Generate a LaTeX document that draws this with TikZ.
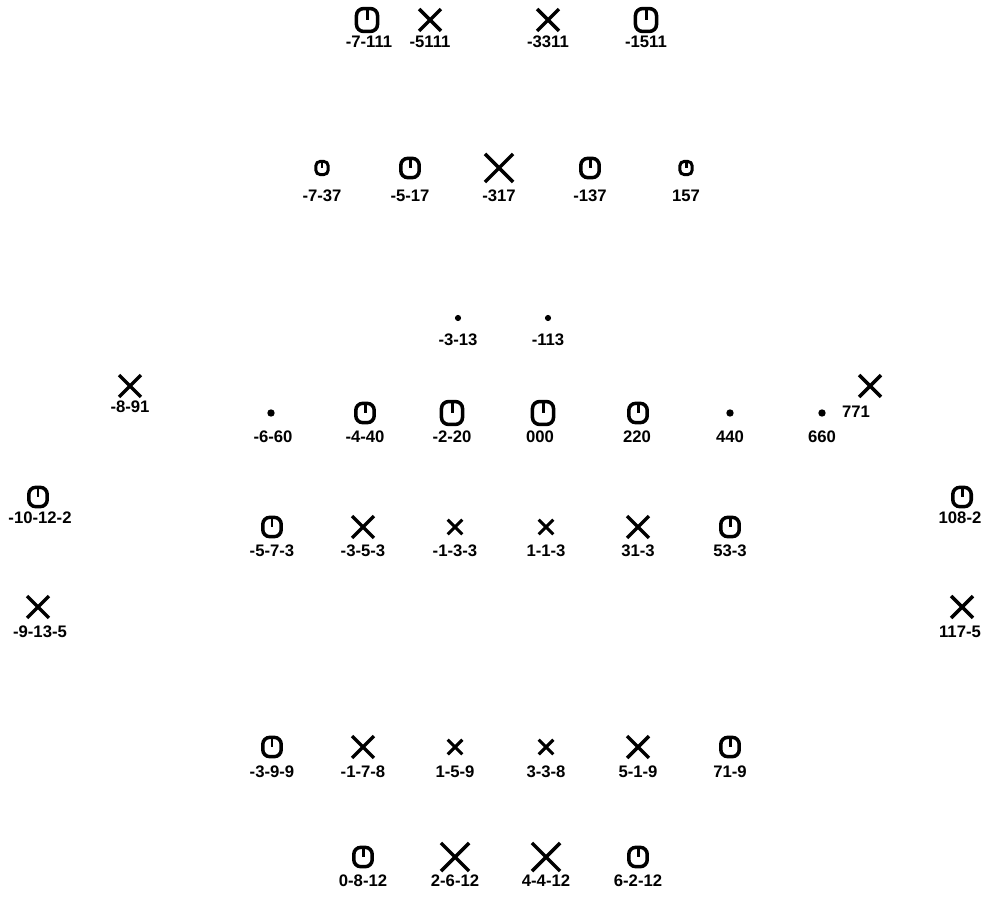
\documentclass[tikz,border=0pt]{standalone}
\usepackage{fontspec}
\setmainfont{Liberation Sans}
\usetikzlibrary{shapes.misc}

\begin{document}
\begin{tikzpicture}[
    x=0.02cm, y=-0.02cm,
    peak/.style={draw, rounded corners=4pt, line width=2pt, inner sep=0pt,
      path picture={\draw[line width=1.7pt] (path picture bounding box.north)
        -- (path picture bounding box.center);}},
    bigpeak/.style={peak, minimum width=12pt, minimum height=13pt},
    midpeak/.style={peak, minimum width=10.5pt, minimum height=11pt},
    smallpeak/.style={peak, rounded corners=2.5pt, line width=1.7pt, minimum width=7pt, minimum height=7.5pt},
    cross/.style={cross out, draw, line width=2pt, inner sep=0pt},
    bigcross/.style={cross, minimum size=14pt},
    midcross/.style={cross, minimum size=10.5pt},
    smallcross/.style={cross, line width=1.8pt, minimum size=6.5pt},
    spot/.style={circle, fill, inner sep=0pt, minimum size=3.5pt},
    hkl/.style={font=\bfseries\fontsize{9.5}{11}\selectfont, inner sep=0pt},
  ]
  \useasboundingbox (0,0) rectangle (989,901);

  % top row, l = 11
  \node[bigpeak] (p1) at (367,20) {};
  \node[hkl] (l1) at (369,42) {-7-111};
  \node[midcross] (p2) at (430,20) {};
  \node[hkl] (l2) at (430,42) {-5111};
  \node[midcross] (p3) at (548,20) {};
  \node[hkl] (l3) at (548,42) {-3311};
  \node[bigpeak] (p4) at (646,20) {};
  \node[hkl] (l4) at (646,42) {-1511};

  % l = 7
  \node[smallpeak] (p5) at (322,168) {};
  \node[hkl] (l5) at (322,196) {-7-37};
  \node[midpeak] (p6) at (410,168) {};
  \node[hkl] (l6) at (410,196) {-5-17};
  \node[bigcross] (p7) at (499,168) {};
  \node[hkl] (l7) at (499,196) {-317};
  \node[midpeak] (p8) at (590,168) {};
  \node[hkl] (l8) at (590,196) {-137};
  \node[smallpeak] (p9) at (686,168) {};
  \node[hkl] (l9) at (686,196) {157};

  % l = 3
  \node[spot] (p10) at (458,318) {};
  \node[hkl] (l10) at (458,340) {-3-13};
  \node[spot] (p11) at (548,318) {};
  \node[hkl] (l11) at (548,340) {-113};

  % zero layer and the outer spots
  \node[midcross] (p12) at (130,386) {};
  \node[hkl] (l12) at (130,407) {-8-91};
  \node[midcross] (p13) at (870,386) {};
  \node[hkl] (l13) at (856,412) {771};

  \node[spot, minimum size=4.2pt] (p14) at (271,413) {};
  \node[hkl] (l14) at (273,437) {-6-60};
  \node[midpeak] (p15) at (365,413) {};
  \node[hkl] (l15) at (365,437) {-4-40};
  \node[bigpeak] (p16) at (452,413) {};
  \node[hkl] (l16) at (452,437) {-2-20};
  \node[bigpeak] (p17) at (543,413) {};
  \node[hkl] (l17) at (540,437) {000};
  \node[midpeak] (p18) at (638,413) {};
  \node[hkl] (l18) at (637,437) {220};
  \node[spot, minimum size=4.2pt] (p19) at (730,413) {};
  \node[hkl] (l19) at (730,437) {440};
  \node[spot, minimum size=4.2pt] (p20) at (822,413) {};
  \node[hkl] (l20) at (822,437) {660};

  \node[midpeak] (p21) at (38,497) {};
  \node[hkl] (l21) at (40,518) {-10-12-2};
  \node[midpeak] (p22) at (962,497) {};
  \node[hkl] (l22) at (960,518) {108-2};

  % l = -3
  \node[midpeak] (p23) at (272,527) {};
  \node[hkl] (l23) at (272,551) {-5-7-3};
  \node[midcross] (p24) at (363,527) {};
  \node[hkl] (l24) at (363,551) {-3-5-3};
  \node[smallcross] (p25) at (455,527) {};
  \node[hkl] (l25) at (455,551) {-1-3-3};
  \node[smallcross] (p26) at (546,527) {};
  \node[hkl] (l26) at (546,551) {1-1-3};
  \node[midcross] (p27) at (638,527) {};
  \node[hkl] (l27) at (638,551) {31-3};
  \node[midpeak] (p28) at (730,527) {};
  \node[hkl] (l28) at (730,551) {53-3};

  \node[midcross] (p29) at (38,607) {};
  \node[hkl] (l29) at (40,632) {-9-13-5};
  \node[midcross] (p30) at (962,607) {};
  \node[hkl] (l30) at (960,632) {117-5};

  % l = -9
  \node[midpeak] (p31) at (272,747) {};
  \node[hkl] (l31) at (272,772) {-3-9-9};
  \node[midcross] (p32) at (363,747) {};
  \node[hkl] (l32) at (363,772) {-1-7-8};
  \node[smallcross] (p33) at (455,747) {};
  \node[hkl] (l33) at (455,772) {1-5-9};
  \node[smallcross] (p34) at (546,747) {};
  \node[hkl] (l34) at (546,772) {3-3-8};
  \node[midcross] (p35) at (638,747) {};
  \node[hkl] (l35) at (638,772) {5-1-9};
  \node[midpeak] (p36) at (730,747) {};
  \node[hkl] (l36) at (730,772) {71-9};

  % l = -12
  \node[midpeak] (p37) at (363,857) {};
  \node[hkl] (l37) at (363,881) {0-8-12};
  \node[bigcross] (p38) at (455,857) {};
  \node[hkl] (l38) at (455,881) {2-6-12};
  \node[bigcross] (p39) at (546,857) {};
  \node[hkl] (l39) at (546,881) {4-4-12};
  \node[midpeak] (p40) at (638,857) {};
  \node[hkl] (l40) at (638,881) {6-2-12};
\end{tikzpicture}
\end{document}
